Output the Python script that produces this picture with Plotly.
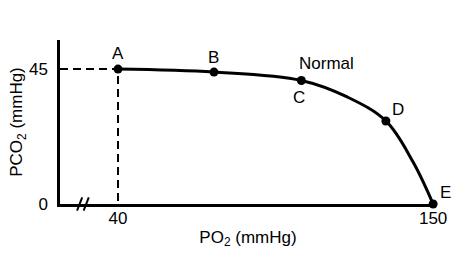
import plotly.graph_objects as go

# Data
point_labels = ["A", "B", "C", "D", "E"]
po2_points = [40, 73.5, 104, 133.5, 150]
pco2_points = [45, 44.0, 41.2, 27.7, 0]

# curve samples (PO2, PCO2) along the line
curve_po2 = [40, 73.5, 104, 120, 133.5, 143, 150]
curve_pco2 = [45, 44.0, 41.2, 35.7, 27.7, 14.0, 0]

label_shift_x = [0, 0, -2, 12, 12]
label_shift_y = [16, 15, -17, 11, 12]

x_ticks = [40, 150]
y_ticks = [0, 45]
x_range = [19.75, 151.0]
y_range = [0, 54.7]
break_x = [26.6, 28.9]

FONT = "Liberation Sans, Arial, Helvetica, sans-serif"

fig = go.Figure()

# dashed reference lines to point A
fig.add_trace(go.Scatter(
    x=[x_range[0], po2_points[0], po2_points[0]],
    y=[pco2_points[0], pco2_points[0], y_range[0]],
    mode="lines", line=dict(color="black", width=2, dash="8px,5px"),
    hoverinfo="skip", showlegend=False, cliponaxis=False))

# curve
fig.add_trace(go.Scatter(
    x=curve_po2, y=curve_pco2, mode="lines",
    line=dict(color="black", width=3, shape="spline", smoothing=1.0),
    hoverinfo="skip", showlegend=False, cliponaxis=False))

# points
fig.add_trace(go.Scatter(
    x=po2_points, y=pco2_points, mode="markers",
    marker=dict(color="black", size=9),
    showlegend=False, cliponaxis=False))

for lab, xv, yv, sx, sy in zip(point_labels, po2_points, pco2_points, label_shift_x, label_shift_y):
    fig.add_annotation(x=xv, y=yv, text=lab, showarrow=False, xshift=sx, yshift=sy,
                       font=dict(family=FONT, size=17, color="black"))

fig.add_annotation(x=po2_points[2], y=pco2_points[2], text="Normal", showarrow=False,
                   xshift=25, yshift=17, font=dict(family=FONT, size=17, color="black"))

# axis break marks
for bx in break_x:
    fig.add_shape(type="line", x0=bx - 0.9, y0=-0.04, x1=bx + 0.9, y1=0.04,
                  xref="x", yref="paper", line=dict(color="black", width=2))

fig.update_layout(
    width=462, height=260,
    margin=dict(l=60, r=26, t=40, b=56),
    paper_bgcolor="white", plot_bgcolor="white",
    font=dict(family=FONT, size=17, color="black"),
    xaxis=dict(range=x_range, tickvals=x_ticks, showgrid=False, zeroline=False,
               showline=True, linecolor="black", linewidth=2.5, ticks="",
               ticklabelstandoff=-3,
               title=dict(text="PO<sub>2</sub> (mmHg)", font=dict(size=17), standoff=4)),
    yaxis=dict(range=y_range, tickvals=y_ticks, showgrid=False, zeroline=False,
               showline=True, linecolor="black", linewidth=2.5, ticks="",
               ticklabelstandoff=6,
               title=dict(text="PCO<sub>2</sub> (mmHg)", font=dict(size=17), standoff=0)),
)

fig.write_html("out.html")
